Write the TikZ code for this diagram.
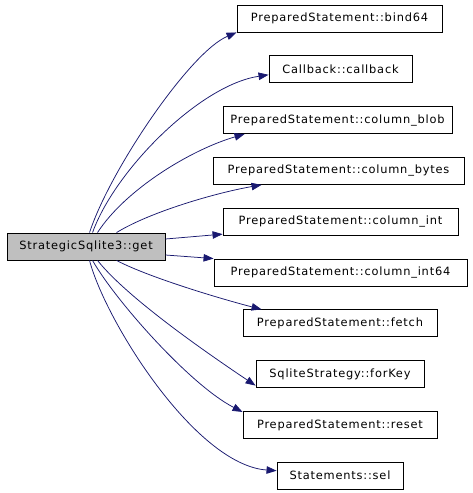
\documentclass[tikz,border=0pt]{standalone}
\usepackage{fontspec}
\setmainfont{DejaVu Sans}[LetterSpace=7]
\usetikzlibrary{arrows.meta}
\definecolor{edgeblue}{HTML}{191970}
\definecolor{srcgray}{HTML}{BFBFBF}
\begin{document}
\begin{tikzpicture}[x=1pt,y=-1pt,
  box/.style={draw=black,line width=0.9pt,inner sep=0pt,minimum height=27pt,font=\fontsize{11.4}{13}\selectfont,anchor=center},
  src/.style={box,fill=srcgray},
  edge/.style={draw=edgeblue,line width=0.75pt,-{Triangle[length=10pt,width=7.5pt]}}]
\useasboundingbox (0,0) rectangle (472,493);
\fill[white] (0,0) rectangle (472,493);
\node[src,minimum width=158pt] (get) at (86,246.5) {StrategicSqlite3::get};
\node[box,minimum width=205pt] (bind64) at (339.5,18.5) {PreparedStatement::bind64};
\node[box,minimum width=143pt] (callback) at (340.5,69.3) {Callback::callback};
\node[box,minimum width=229pt] (blob) at (337.5,120.1) {PreparedStatement::column\_blob};
\node[box,minimum width=251pt] (bytes) at (338.5,170.9) {PreparedStatement::column\_bytes};
\node[box,minimum width=235pt] (int) at (340.5,221.7) {PreparedStatement::column\_int};
\node[box,minimum width=253pt] (int64) at (340.5,272.5) {PreparedStatement::column\_int64};
\node[box,minimum width=194pt] (fetch) at (340,323.3) {PreparedStatement::fetch};
\node[box,minimum width=168pt] (forkey) at (340,374.1) {SqliteStrategy::forKey};
\node[box,minimum width=194pt] (reset) at (340,424.9) {PreparedStatement::reset};
\node[box,minimum width=126pt] (sel) at (340,475.7) {Statements::sel};
\draw[edge] ([xshift=83pt]get.north west) .. controls (110,170) and (190,52) .. (bind64.south west);
\draw[edge] ([xshift=86pt]get.north west) .. controls (115,170) and (200,85) .. ([yshift=-5.5pt]callback.west);
\draw[edge] ([xshift=91pt]get.north west) .. controls (125,190) and (190,150) .. ([xshift=22pt]blob.south west);
\draw[edge] ([xshift=110pt]get.north west) .. controls (150,212) and (215,193) .. ([xshift=49pt]bytes.south west);
\draw[edge] ([yshift=7.5pt]get.east) -- ([yshift=1.5pt]int.south west);
\draw[edge] ([yshift=-8.5pt]get.east) -- (int64.north west);
\draw[edge] ([xshift=110pt]get.south west) .. controls (150,278) and (225,300) .. ([xshift=19pt]fetch.north west);
\draw[edge] ([xshift=91pt]get.south west) .. controls (125,295) and (195,345) .. ([yshift=-11.5pt]forkey.west);
\draw[edge] ([xshift=86pt]get.south west) .. controls (115,300) and (190,385) .. ([yshift=-1pt]reset.north west);
\draw[edge] ([xshift=83pt]get.south west) .. controls (105,320) and (195,465) .. ([yshift=5pt]sel.west);
\end{tikzpicture}
\end{document}
